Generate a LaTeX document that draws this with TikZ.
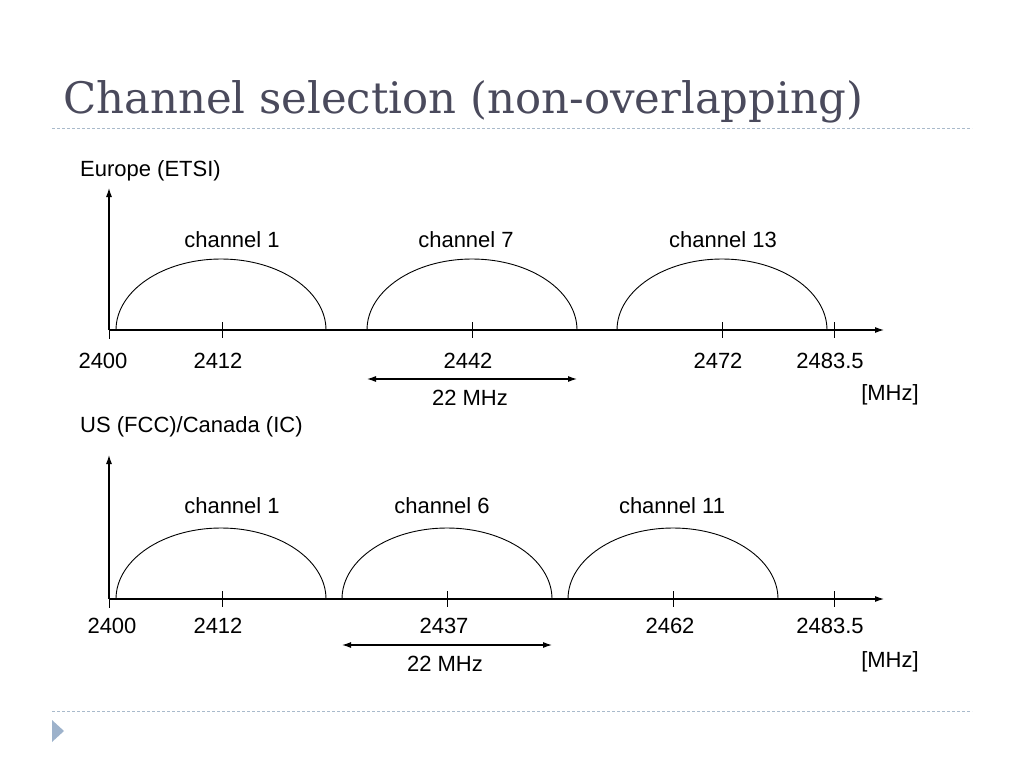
\documentclass[tikz,border=0pt]{standalone}
\usepackage{fontspec}
\setmainfont{Liberation Sans}
\newfontfamily\titlefont{DejaVu Serif}
\usetikzlibrary{arrows.meta}
\definecolor{titlegray}{HTML}{4A4A5C}
\definecolor{rulegray}{HTML}{A9BACB}
\definecolor{bulletblue}{HTML}{9DB2CB}
\begin{document}
\begin{tikzpicture}[x=1pt, y=1pt,
  lbl/.style={font=\fontsize{22}{26}\selectfont, inner sep=0pt, anchor=base},
  axis/.style={line width=1.1pt, -{Latex[length=9pt, width=6pt]}},
  band/.style={line width=0.9pt},
  tickmark/.style={line width=0.9pt},
  span/.style={line width=1.1pt, {Latex[length=9pt, width=6pt]}-{Latex[length=9pt, width=6pt]}},
  rule/.style={rulegray, line width=1pt, dash pattern=on 3pt off 2pt}]
  \useasboundingbox (0,0) rectangle (1024,-768);
  % Title and rules
  \node[anchor=base west, inner sep=0pt, text=titlegray, font=\titlefont\fontsize{43.4}{48}\selectfont] (title) at (63,-113) {Channel selection (non-overlapping)};
  \coordinate (r1a) at (52,-128); \coordinate (r1b) at (972,-128);
  \coordinate (r2a) at (52,-711); \coordinate (r2b) at (972,-711);
  \draw[rule] (r1a) -- (r1b);
  \draw[rule] (r2a) -- (r2b);
  \fill[bulletblue] (52,-720) -- (64,-731) -- (52,-742) -- cycle;

  % Europe (ETSI)
  \node[lbl, anchor=base west] (eu) at (80,-176) {Europe (ETSI)};
  \coordinate (eo) at (109,-330);
  \coordinate (ey) at (109,-188);
  \coordinate (ex) at (884,-330);
  \draw[axis] (eo) -- (ey);
  \draw[axis] (eo) -- (ex);
  \draw[tickmark] (eo) -- ++(0,-9);
  \foreach \x in {222,472,722,834} {
    \draw[tickmark] (\x,-322) -- (\x,-338);
  }
  \foreach \l/\m/\c in {116/232/1, 367/466/7, 617/723/13} {
    \draw[band] (\l,-330) arc[start angle=180, end angle=0, x radius=105, y radius=71];
    \node[lbl] (euch\c) at (\m,-247) {channel \c};
  }
  \foreach \x/\f [count=\k] in {103/2400, 218/2412, 468/2442, 718/2472, 830/2483.5} {
    \node[lbl] (euf\k) at (\x,-368) {\f};
  }
  \coordinate (eul) at (367,-379);
  \coordinate (eur) at (577,-379);
  \draw[span] (eul) -- (eur);
  \node[lbl] (euw) at (470,-405) {22 MHz};
  \node[lbl] (euu) at (890,-400) {[MHz]};

  % US (FCC)/Canada (IC)
  \node[lbl, anchor=base west] (us) at (80,-432) {US (FCC)/Canada (IC)};
  \coordinate (uo) at (109,-599);
  \coordinate (uy) at (109,-455);
  \coordinate (ux) at (884,-599);
  \draw[axis] (uo) -- (uy);
  \draw[axis] (uo) -- (ux);
  \draw[tickmark] (uo) -- ++(0,-9);
  \foreach \x in {222,447,673,834} {
    \draw[tickmark] (\x,-591) -- (\x,-607);
  }
  \foreach \l/\m/\c in {116/232/1, 342/442/6, 568/672/11} {
    \draw[band] (\l,-599) arc[start angle=180, end angle=0, x radius=105, y radius=71];
    \node[lbl] (usch\c) at (\m,-513) {channel \c};
  }
  \foreach \x/\f [count=\k] in {112/2400, 218/2412, 444/2437, 670/2462, 830/2483.5} {
    \node[lbl] (usf\k) at (\x,-633) {\f};
  }
  \coordinate (usl) at (342,-645);
  \coordinate (usr) at (552,-645);
  \draw[span] (usl) -- (usr);
  \node[lbl] (usw) at (445,-671) {22 MHz};
  \node[lbl] (usu) at (890,-667) {[MHz]};
\end{tikzpicture}
\end{document}
